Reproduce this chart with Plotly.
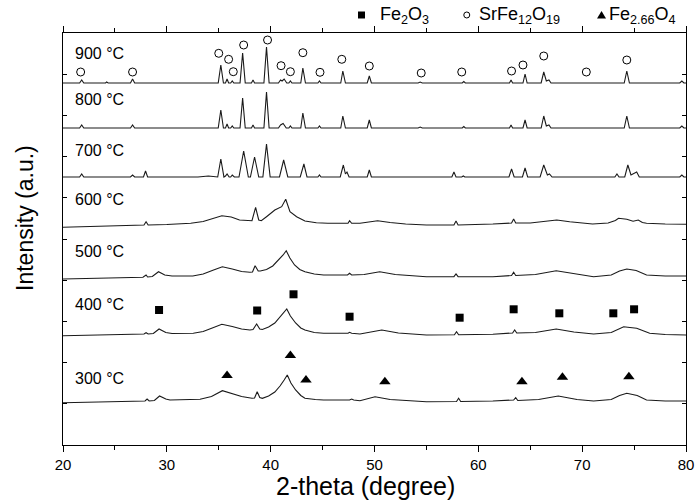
import plotly.graph_objects as go

# ---------------- data (2-theta in degree, intensity in a.u., stacked patterns) ----------------
temperatures = ["300 °C", "400 °C", "500 °C", "600 °C", "700 °C", "800 °C", "900 °C"]

p900 = [(20,362),(21.6,362),(21.8,365),(22.0,362),(24.1,362),(24.2,363),(24.35,362),(26.5,362),(26.7,366),(26.9,362),
        (34.95,362),(35.2,380),(35.45,362),(35.65,362),(35.8,366),(35.95,362),(36.15,362),(36.3,364),(36.45,362),
        (37.05,362),(37.3,392),(37.55,362),(38.15,362),(38.3,365),(38.45,362),(39.35,362),(39.6,398),(39.85,362),
        (40.75,362),(40.95,365),(41.1,364),(41.3,366),(41.55,362),(41.75,362),(41.9,364),(42.05,362),
        (42.9,362),(43.1,377),(43.35,362),(44.55,362),(44.7,364),(44.85,362),(46.75,362),(46.95,374),(47.2,362),
        (49.3,362),(49.5,369),(49.7,362),(54.2,362),(54.4,363),(54.6,362),(58.45,362),(58.6,363.5),(58.75,362),
        (63.0,362),(63.15,365),(63.3,362),(64.3,362),(64.5,371),(64.7,362),(66.05,362),(66.3,373),(66.55,364),
        (66.8,365),(67.0,362),(74.05,362),(74.3,374),(74.55,362),(79.4,362),(79.6,364),(79.8,362),(80,362)]

p800 = [(20,317),(21.6,317),(21.8,320),(22.0,317),(26.5,317),(26.7,320),(26.9,317),
        (34.95,317),(35.2,335),(35.45,317),(35.65,317),(35.8,321),(35.95,317),(36.15,317),(36.3,319),(36.45,317),
        (37.05,317),(37.3,347),(37.55,317),(38.15,317),(38.3,320),(38.45,317),(39.35,317),(39.6,353),(39.85,317),
        (40.75,317),(40.95,320),(41.2,321.5),(41.5,317),(41.75,317),(41.9,319),(42.05,317),
        (42.9,317),(43.1,332),(43.35,317),(44.55,317),(44.7,319),(44.85,317),(46.75,317),(46.95,329),(47.2,317),
        (49.3,317),(49.5,325),(49.7,317),(54.2,317),(54.4,318),(54.6,317),(58.45,317),(58.6,318.5),(58.75,317),
        (63.0,317),(63.15,320),(63.3,317),(64.3,317),(64.5,325),(64.7,317),(66.05,317),(66.3,329),(66.55,319),
        (66.8,320),(67.0,317),(74.05,317),(74.3,329),(74.55,317),(79.4,317),(79.6,319),(79.8,317),(80,317)]

p700 = [(20,268),(21.6,268),(21.8,271),(22.0,268),(26.5,268),(26.7,270),(26.9,268),(27.75,268),(27.95,274),(28.15,268),
        (33.0,268),(34.0,269),(34.9,268),(35.2,286),(35.5,268),(35.65,269),(35.8,271),(36.0,268),(36.15,268),(36.3,270),
        (36.5,268),(36.95,268),(37.4,294),(37.85,268),(38.05,268),(38.45,288),(38.85,268),(39.25,268),(39.6,301),
        (39.95,268),(40.85,268),(41.25,285),(41.65,268),(42.85,268),(43.2,281),(43.5,268),(44.55,268),(44.7,270),
        (44.85,268),(46.7,268),(47.0,280),(47.2,271),(47.35,273),(47.55,268),(49.3,268),(49.5,275),(49.7,268),
        (57.45,268),(57.65,273),(57.85,268),(58.4,268),(58.55,269),(58.7,268),(62.95,268),(63.2,276),(63.45,268),
        (64.25,268),(64.5,277),(64.75,268),(65.95,268),(66.3,280),(66.65,270),(66.85,271),(67.1,268),
        (73.15,268),(73.35,271),(73.55,268),(74.1,268),(74.4,280),(74.7,270),(75.25,273),(75.5,268),
        (79.4,268),(79.6,270),(79.8,268),(80,268)]

p600 = [(20,217.7),(25,219),(27.8,220),(28.0,223.3),(28.2,220),(30,220.5),(32.3,221.7),(33.5,223.5),(34.5,227),
        (35.3,229.3),(36.2,228),(37.0,225),(38.2,224.3),(38.55,237.7),(38.85,225),(39.1,224.3),(39.6,228.3),
        (40.4,235),(41.06,238.3),(41.45,245.7),(41.86,233.3),(42.5,228.3),(43.3,224),(44.4,222.3),(45.5,221.7),
        (47.45,221.7),(47.6,224.3),(47.8,221.7),(48.6,221.7),(50.3,224.3),(51.5,222.5),(53,221),(55.0,220),
        (57.65,220),(57.85,224),(58.05,220),(61.4,221),(63.2,222),(63.4,226),(63.6,222),(65.0,222),(66.3,223.5),
        (67.55,225),(68.8,223.3),(71.0,221),(72.5,222),(73.2,224.5),(73.5,226.7),(74.3,225.7),(74.9,223.8),
        (75.4,225),(75.8,222.5),(76.2,221.7),(78,221),(80,220.7)]

p500 = [(20,166),(25,167),(27.7,167.7),(28.0,170),(28.15,168),(28.6,168.5),(29.2,173.3),(29.8,170),(30.5,169),
        (32.5,169),(33.5,171),(34.5,175),(35.35,178.3),(36.3,176),(37.2,173.5),(38.0,172.7),(38.25,173),(38.5,179.3),
        (38.8,174),(39.0,174),(39.6,175.5),(40.2,179),(40.8,185),(41.2,190),(41.5,194.3),(41.85,187),(42.3,180),
        (42.8,175.5),(43.3,173.3),(44.2,171),(45.1,170),(47.4,170),(47.6,171.7),(47.8,170),(49.0,170.5),(50.5,173.3),
        (52.0,170.5),(55.0,168.3),(57.65,168.3),(57.85,171),(58.05,168.3),(61.4,168.3),(63.2,169.5),(63.4,172.7),
        (63.6,169.5),(65.5,170.5),(67.5,174.3),(69.0,171.5),(71.1,168.3),(72.8,170),(73.6,174),(74.3,176),
        (75.2,174.5),(76.2,170),(78,169),(80,169)]

p400 = [(20,109.3),(25,110),(27.8,111),(28.0,112.3),(28.2,111),(28.7,111.5),(29.25,116),(29.9,112.5),(30.5,111.5),
        (32.55,111.7),(33.5,113.5),(34.5,117.5),(35.3,120.7),(36.3,118.5),(37.2,116),(38.0,115),(38.3,115.5),
        (38.65,121),(38.95,116),(39.2,115.5),(39.8,118),(40.4,122),(40.9,128),(41.3,133),(41.55,136),(41.9,129),
        (42.4,122),(42.9,117),(43.3,115),(44.2,112.5),(45.1,111.7),(47.45,111.7),(47.6,112.7),(47.8,111.7),
        (48.6,111),(50.7,115),(52.3,112),(55.0,110),(57.7,110.3),(57.9,113.3),(58.1,110.3),(61.4,110.7),(63.3,112),
        (63.5,115),(63.7,112),(65.5,112.5),(67.5,116),(69.2,113),(71.1,111),(72.8,112.5),(73.6,116.5),(74.0,118.3),
        (74.6,117.5),(75.25,116.7),(76.5,111.7),(78,110.5),(80,110)]

p300 = [(20,42.3),(25,43),(27.9,44),(28.1,46),(28.3,44),(28.8,44.5),(29.3,49),(29.9,46),(30.3,45),(33.2,45.7),
        (34.3,48.5),(35.35,54.3),(36.3,51.5),(37.2,48.5),(38.2,46.7),(38.45,47),(38.7,53.3),(38.95,47.5),(39.2,46.7),
        (39.8,49),(40.4,53),(40.9,59),(41.3,65),(41.6,70),(41.95,62),(42.4,55),(42.9,49.5),(43.3,46.7),(44.3,45.5),
        (45.1,45),(47.6,45),(47.8,46),(48.0,45),(48.6,44.3),(50.05,48.3),(51.5,45.5),(55.0,43.3),(57.9,43.5),
        (58.1,46.7),(58.3,43.5),(61.4,44),(63.4,45),(63.6,47.3),(63.8,44.5),(65.8,45.5),(67.7,49),(69.5,45.5),
        (71.1,44),(72.8,45.5),(73.6,49.5),(74.3,51.7),(75.3,49.5),(76.2,45),(78,44),(80,44)]

patterns = [p300, p400, p500, p600, p700, p800, p900]

# phase markers (2-theta, intensity level where the symbol is drawn)
fe2o3_theta = [29.25, 38.7, 42.2, 47.6, 58.2, 63.4, 67.8, 73.0, 75.0]
fe2o3_int = [135, 134.5, 150.7, 128.3, 127.3, 135.7, 131.7, 131.7, 135.7]

srfe_theta = [21.7, 26.7, 35.0, 35.95, 36.4, 37.4, 39.7, 41.0, 41.9, 43.1, 44.75, 46.85, 49.5, 54.5, 58.4,
              63.2, 64.3, 66.3, 70.4, 74.3]
srfe_int = [373, 373, 391.7, 385.7, 373.3, 400, 405, 379.3, 373.3, 392.3, 372.7, 385.7, 379, 372, 373,
            374, 380, 389, 373, 385]

fe266_theta = [35.8, 41.9, 43.4, 51.0, 64.2, 68.1, 74.5]
fe266_int = [69.5, 89.5, 65, 63.3, 63.3, 67.7, 68.3]

legend_names = ["Fe<sub>2</sub>O<sub>3</sub>", "SrFe<sub>12</sub>O<sub>19</sub>", "Fe<sub>2.66</sub>O<sub>4</sub>"]

# ---------------- figure ----------------
FONT = "Arial, 'Liberation Sans', sans-serif"
LINE = "#1a1a1a"

fig = go.Figure()
for pts in patterns:
    fig.add_trace(go.Scatter(x=[p[0] for p in pts], y=[p[1] for p in pts], mode="lines",
                             line=dict(color=LINE, width=1.1), showlegend=False, hoverinfo="skip"))

fig.add_trace(go.Scatter(x=fe2o3_theta, y=fe2o3_int, mode="markers", name=legend_names[0], showlegend=False,
                         marker=dict(symbol="square", size=8, color="black")))
fig.add_trace(go.Scatter(x=srfe_theta, y=srfe_int, mode="markers", name=legend_names[1], showlegend=False,
                         marker=dict(symbol="circle-open", size=8, color="black", line=dict(width=1, color="black"))))
fig.add_trace(go.Scatter(x=fe266_theta, y=fe266_int, mode="markers", name=legend_names[2], showlegend=False,
                         marker=dict(symbol="triangle-up", size=10, color="black")))

# temperature labels
label_y = [66.5, 140.5, 194, 246, 295, 345.3, 392]
annotations = []
for t, yv in zip(temperatures, label_y):
    annotations.append(dict(x=21.0, y=yv, xref="x", yref="y", text=t, showarrow=False,
                            xanchor="left", yanchor="middle", font=dict(size=16, family=FONT, color="black")))

# legend (drawn manually at top)
leg_text_x = [0.5056, 0.6645, 0.8732]
for name, xv in zip(legend_names, leg_text_x):
    annotations.append(dict(x=xv, y=1.0413, xref="paper", yref="paper", text=name, showarrow=False,
                            xanchor="left", yanchor="middle", font=dict(size=18, family=FONT, color="black")))

# axis titles
annotations.append(dict(x=0.4848, y=-0.0995, xref="paper", yref="paper", text="2-theta (degree)", showarrow=False,
                        xanchor="center", yanchor="middle", font=dict(size=25, family=FONT, color="black")))
annotations.append(dict(x=-0.061, y=0.551, xref="paper", yref="paper", text="Intensity (a.u.)", showarrow=False,
                        textangle=-90, xanchor="center", yanchor="middle",
                        font=dict(size=23, family=FONT, color="black")))

shapes = [
    dict(type="rect", xref="paper", yref="paper", xsizemode="pixel", ysizemode="pixel",
         xanchor=0.4791, yanchor=1.0437, x0=-3.5, x1=3.5, y0=-3.5, y1=3.5,
         fillcolor="black", line=dict(width=0)),
    dict(type="circle", xref="paper", yref="paper", xsizemode="pixel", ysizemode="pixel",
         xanchor=0.6481, yanchor=1.0437, x0=-3, x1=3, y0=-3, y1=3,
         line=dict(color="black", width=1)),
    dict(type="path", xref="paper", yref="paper", xsizemode="pixel", ysizemode="pixel",
         xanchor=0.8644, yanchor=1.0437, path="M -4.5,-3.5 L 4.5,-3.5 L 0,4 Z",
         fillcolor="black", line=dict(width=0)),
]

fig.update_layout(
    width=696, height=502,
    margin=dict(l=63, r=10, t=33, b=57, autoexpand=False),
    paper_bgcolor="white", plot_bgcolor="white",
    font=dict(family=FONT, color="black"),
    annotations=annotations, shapes=shapes,
    showlegend=False,
    xaxis=dict(range=[20, 80], tick0=20, dtick=10, ticks="outside", ticklen=6, tickwidth=1.2, tickcolor="black",
               minor=dict(dtick=5, ticks="outside", ticklen=4, tickwidth=1.2, tickcolor="black"),
               showline=True, linecolor="black", linewidth=1.3, mirror="ticks", automargin=False,
               showgrid=False, zeroline=False, tickfont=dict(size=15, family=FONT, color="black")),
    yaxis=dict(range=[0, 412], tick0=0, dtick=41.2, ticks="inside", ticklen=4, tickwidth=1, tickcolor="black",
               showticklabels=False, showline=True, linecolor="black", linewidth=1.3, mirror="ticks",
               automargin=False, showgrid=False, zeroline=False),
)

fig.write_html(
    "out.html",
    config={"displayModeBar": False},
    post_script=("document.documentElement.style.margin='0';document.documentElement.style.overflow='hidden';"
                 "document.body.style.margin='0';document.body.style.padding='0';"
                 "document.body.style.overflow='hidden';"),
)
